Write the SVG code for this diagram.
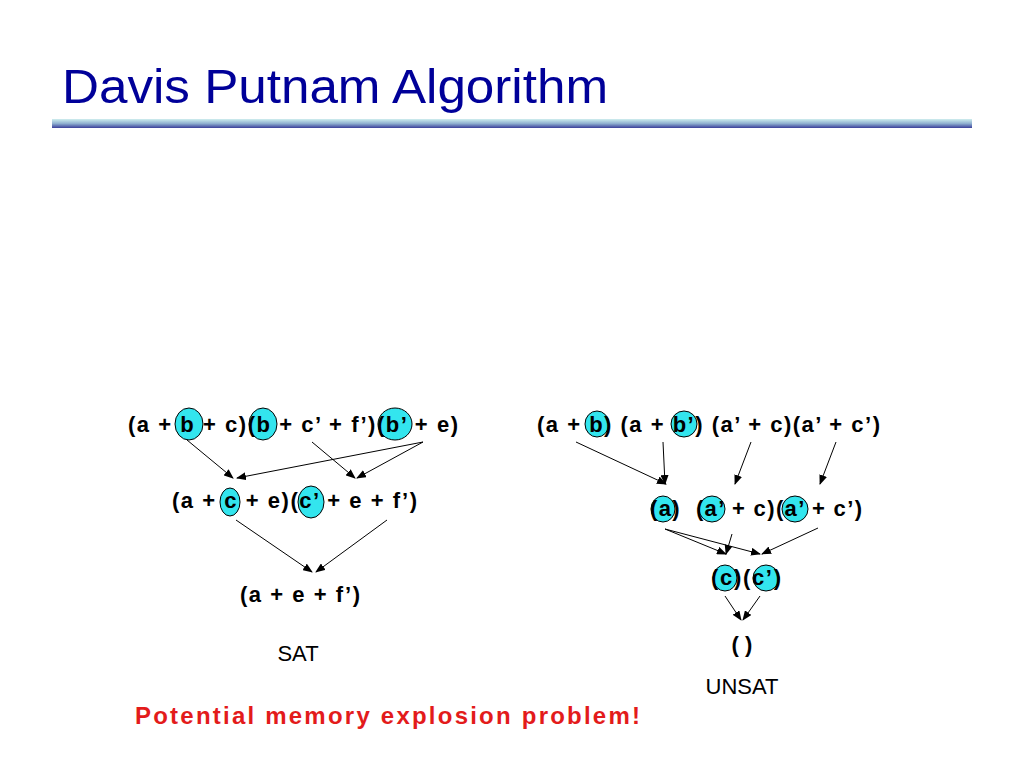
<svg xmlns="http://www.w3.org/2000/svg" width="1024" height="768" viewBox="0 0 1024 768">
<defs>
<linearGradient id="bar" x1="0" y1="0" x2="0" y2="1"><stop offset="0" stop-color="#cfeeee"/><stop offset="0.5" stop-color="#8fb0d0"/><stop offset="1" stop-color="#3a3f9a"/></linearGradient>
<marker id="ah" markerWidth="10" markerHeight="8" refX="9" refY="4" orient="auto" markerUnits="userSpaceOnUse"><path d="M0,0 L10,4 L0,8 Z" fill="#000"/></marker>
<style>
.t{font-family:"Liberation Sans",Arial,sans-serif;font-weight:bold;font-size:22px;fill:#000}
.n{font-family:"Liberation Sans",Arial,sans-serif;font-size:22px;fill:#000}
.hl{fill:#33e5ee;stroke:#000;stroke-width:1}
.c line{stroke:#000;stroke-width:1;marker-end:url(#ah)}
</style>
</defs>
<rect width="1024" height="768" fill="#fff"/>
<text x="62" y="103" font-family="Liberation Sans,Arial,sans-serif" font-size="48" fill="#000099" textLength="546" lengthAdjust="spacingAndGlyphs">Davis Putnam Algorithm</text>
<rect x="52" y="119" width="920" height="9" fill="url(#bar)"/>
<g id="l1">
<ellipse class="hl" cx="189" cy="424" rx="14" ry="16"/><ellipse class="hl" cx="263" cy="424" rx="14" ry="16"/><ellipse class="hl" cx="395" cy="424" rx="17" ry="16"/>
<text class="t" x="128" y="432" textLength="330">(a + b + c)(b + c’ + f’)(b’ + e)</text></g>
<g id="l2">
<ellipse class="hl" cx="230" cy="502" rx="10" ry="14"/><ellipse class="hl" cx="311" cy="502" rx="13" ry="16"/>
<text class="t" x="172" y="508" textLength="245">(a + c + e)(c’ + e + f’)</text></g>
<g id="l3"><text class="t" x="240" y="602" textLength="120">(a + e + f’)</text></g>
<g id="sat"><text class="n" x="298" y="661" text-anchor="middle">SAT</text></g>
<g id="r1">
<ellipse class="hl" cx="597" cy="424" rx="12" ry="13"/><ellipse class="hl" cx="684" cy="424" rx="13" ry="13"/>
<text class="t" x="537" y="432" textLength="343">(a + b) (a + b’) (a’ + c)(a’ + c’)</text></g>
<g id="r2">
<ellipse class="hl" cx="663" cy="509" rx="12" ry="13"/><ellipse class="hl" cx="712" cy="509" rx="13" ry="13"/><ellipse class="hl" cx="795" cy="509" rx="13" ry="13"/>
<text class="t" x="650" y="516" textLength="212" xml:space="preserve">(a)  (a’ + c)(a’ + c’)</text></g>
<g id="r3">
<ellipse class="hl" cx="725" cy="578" rx="12" ry="13"/><ellipse class="hl" cx="766" cy="578" rx="13" ry="13"/>
<text class="t" x="711" y="585" textLength="70">(c)(c’)</text></g>
<g id="r4"><text class="t" x="742" y="652" text-anchor="middle">( )</text></g>
<g id="unsat"><text class="n" x="742" y="694" text-anchor="middle">UNSAT</text></g>
<g id="note"><text class="t" x="135" y="724" style="fill:#e31b1b;font-size:24px" textLength="505">Potential memory explosion problem!</text></g>
<g class="c" id="connectors">
<line x1="187" y1="440" x2="233" y2="478"/><line x1="312" y1="442" x2="355" y2="478"/>
<line x1="423" y1="442" x2="237" y2="478"/><line x1="423" y1="442" x2="357" y2="478"/>
<line x1="236" y1="520" x2="312" y2="572"/><line x1="387" y1="520" x2="316" y2="572"/>
<line x1="576" y1="442" x2="666" y2="484"/><line x1="663" y1="442" x2="665" y2="484"/>
<line x1="751" y1="442" x2="735" y2="484"/><line x1="836" y1="442" x2="820" y2="484"/>
<line x1="665" y1="529" x2="726" y2="554"/><line x1="665" y1="529" x2="760" y2="554"/>
<line x1="732" y1="534" x2="726" y2="554"/><line x1="818" y1="528" x2="762" y2="554"/>
<line x1="725" y1="596" x2="741" y2="620"/><line x1="760" y1="596" x2="743" y2="620"/>
</g>
</svg>
